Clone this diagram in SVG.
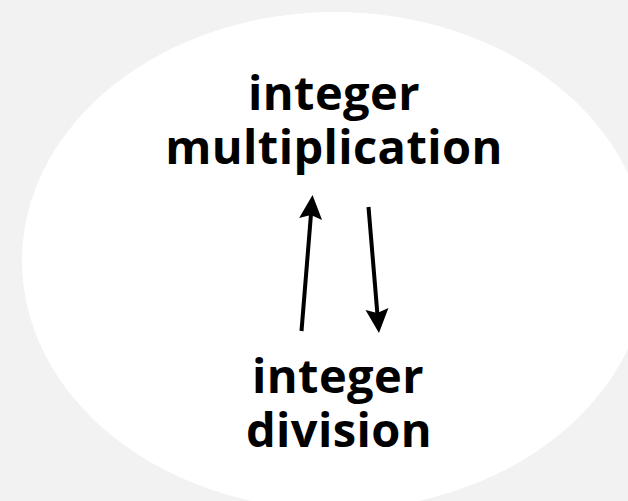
<svg xmlns="http://www.w3.org/2000/svg" width="628" height="501" viewBox="0 0 628 501">
  <style>
    .lbl { font-family: "Open Sans", "Noto Sans", "DejaVu Sans", sans-serif; font-weight: bold; font-size: 47px; letter-spacing: 0.4px; fill: #000; text-anchor: middle; }
    .edge { stroke: #000; stroke-width: 4; fill: none; marker-end: url(#head); }
  </style>
  <defs>
    <marker id="head" viewBox="0 0 26 24" markerWidth="26" markerHeight="24" refX="7" refY="12" orient="auto" markerUnits="userSpaceOnUse">
      <path d="M26 12 L2 0.5 L6 12 L2 23.5 Z" fill="#000"/>
    </marker>
  </defs>
  <rect x="0" y="0" width="628" height="501" fill="#f2f2f2"/>
  <ellipse id="region" cx="335" cy="261" rx="313" ry="249" fill="#ffffff"/>
  <g id="mult">
    <text class="lbl" x="334" y="110">integer</text>
    <text class="lbl" x="334" y="164">multiplication</text>
  </g>
  <g id="div">
    <text class="lbl" x="338" y="393">integer</text>
    <text class="lbl" x="339" y="447">division</text>
  </g>
  <g id="connectors">
    <line class="edge" x1="301.5" y1="331" x2="311" y2="214"/>
    <line class="edge" x1="368.5" y1="207" x2="377.4" y2="314"/>
  </g>
</svg>
